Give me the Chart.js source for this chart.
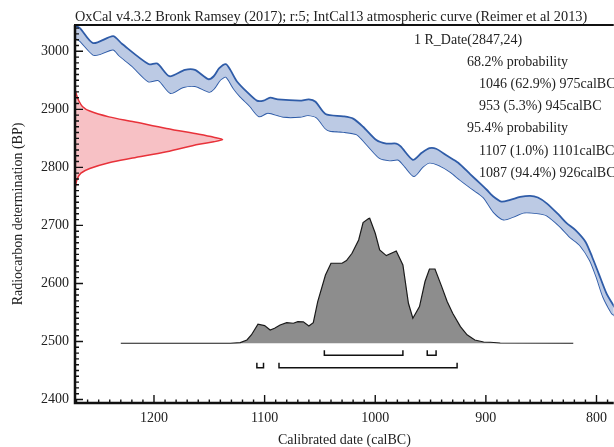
<!DOCTYPE html>
<html>
<head>
<meta charset="utf-8">
<script src="https://cdn.jsdelivr.net/npm/chart.js@4"></script>
<style>
  html, body { margin: 0; padding: 0; background: #fff; }
  canvas { display: block; }
</style>
</head>
<body>
<canvas id="grafico" width="614" height="447"></canvas>
<script>
// Curva IntCal13: limite superior (calBC, BP)
const curveUpperYears = [1275, 1271, 1267, 1255, 1237, 1229, 1205, 1197, 1186, 1172, 1163, 1151, 1146, 1141, 1135, 1131, 1125, 1116, 1107, 1101, 1095, 1088, 1068, 1060, 1054, 1045, 1029, 1020, 1011, 999, 990, 981, 977, 966, 958, 951, 945, 935, 925, 914, 905, 899, 894, 886, 878, 869, 860, 853, 845, 834, 827, 819, 810, 804, 798, 791, 784, 778];
const curveUpperBP = [3050, 3044, 3040, 3014, 3026, 3013, 2978, 2979, 2957, 2968, 2968, 2952, 2957, 2971, 2978, 2968, 2948, 2930, 2915, 2915, 2920, 2917, 2915, 2917, 2913, 2892, 2888, 2884, 2870, 2847, 2841, 2841, 2836, 2813, 2825, 2833, 2832, 2820, 2808, 2788, 2772, 2761, 2751, 2741, 2744, 2749, 2751, 2748, 2738, 2718, 2704, 2692, 2672, 2646, 2617, 2583, 2560, 2540];

// Curva IntCal13: limite inferior (calBC, BP)
const curveLowerYears = [1275, 1271, 1267, 1255, 1249, 1237, 1231, 1220, 1205, 1196, 1185, 1174, 1163, 1150, 1146, 1140, 1135, 1128, 1122, 1113, 1105, 1097, 1083, 1068, 1061, 1053, 1045, 1041, 1029, 1017, 1008, 996, 987, 979, 973, 965, 957, 951, 943, 932, 923, 911, 902, 893, 884, 875, 866, 854, 845, 833, 824, 815, 806, 800, 794, 786, 784, 778];
const curveLowerBP = [3030, 3023, 3018, 2994, 2995, 3003, 2992, 2975, 2948, 2950, 2928, 2938, 2940, 2930, 2935, 2951, 2956, 2936, 2922, 2905, 2888, 2894, 2887, 2887, 2890, 2886, 2867, 2863, 2861, 2857, 2840, 2816, 2812, 2813, 2801, 2785, 2801, 2808, 2804, 2792, 2778, 2761, 2748, 2723, 2710, 2715, 2722, 2721, 2717, 2698, 2680, 2666, 2640, 2611, 2577, 2548, 2545, 2530];

// R_Date(2847,24): densidade relativa por BP
const rdateBP = [2935, 2925, 2915, 2905, 2897, 2887, 2879, 2867, 2857, 2852, 2848, 2844, 2840, 2827, 2816, 2808, 2798, 2790, 2780, 2770, 2760];
const rdateDens = [0, 0.01, 0.025, 0.05, 0.1, 0.23, 0.39, 0.62, 0.84, 0.94, 1, 0.94, 0.84, 0.62, 0.39, 0.23, 0.1, 0.04, 0.015, 0.005, 0];

// Distribuição calibrada (probabilidade relativa)
const calYears = [1230, 1131, 1122, 1116, 1112, 1106, 1100, 1095, 1091, 1086, 1080, 1074, 1070, 1065, 1060, 1056, 1052, 1045, 1040, 1030, 1026, 1021, 1015, 1011, 1006, 1005, 1000, 996, 990, 981, 975, 970, 966, 960, 955, 951, 946, 940, 935, 930, 923, 917, 910, 902, 896, 887, 821];
const calProb = [0, 0, 0.005, 0.026, 0.066, 0.152, 0.141, 0.106, 0.12, 0.146, 0.165, 0.16, 0.173, 0.171, 0.138, 0.165, 0.333, 0.546, 0.64, 0.64, 0.661, 0.72, 0.826, 0.965, 0.997, 1, 0.88, 0.746, 0.701, 0.738, 0.626, 0.32, 0.2, 0.293, 0.494, 0.594, 0.594, 0.455, 0.334, 0.24, 0.133, 0.067, 0.026, 0.01, 0.008, 0.002, 0];

// Intervalos (calBC)
const range68 = [[1046, 975], [953, 945]];
const range95 = [[1107, 1101], [1087, 926]];

// Marcas dos eixos
const xTickValues = [1200, 1100, 1000, 900, 800];
const yTickValues = [2400, 2500, 2600, 2700, 2800, 2900, 3000];

const titulo = 'OxCal v4.3.2 Bronk Ramsey (2017); r:5; IntCal13 atmospheric curve (Reimer et al 2013)';
// [nível de recuo, texto]
const resumo = [
    [0, '1 R_Date(2847,24)'],
    [1, '68.2% probability'],
    [2, '1046 (62.9%) 975calBC'],
    [2, '953 (5.3%) 945calBC'],
    [1, '95.4% probability'],
    [2, '1107 (1.0%) 1101calBC'],
    [2, '1087 (94.4%) 926calBC']
];

const fonte = "'Liberation Serif', 'Times New Roman', serif";
const corTexto = '#222';

function pares(xs, ys) {
    return xs.map((x, i) => ({ x: x, y: ys[i] }));
}

// colchete sob a distribuição: sobe nas pontas
function colchete(range, topo, base) {
    return {
        data: [
            { x: range[0], y: topo }, { x: range[0], y: base },
            { x: range[1], y: base }, { x: range[1], y: topo }
        ],
        xAxisID: 'x', yAxisID: 'yp',
        borderColor: '#111', borderWidth: 1.5,
        pointRadius: 0, fill: false, tension: 0
    };
}

const colchetes = [];
range68.forEach(r => colchetes.push(colchete(r, -0.055, -0.095)));
range95.forEach(r => colchetes.push(colchete(r, -0.155, -0.195)));

// eixos com marcas para dentro, borda superior e textos
const eixosOxcal = {
    id: 'eixosOxcal',
    afterDatasetsDraw(chart) {
        const { ctx, chartArea: a, scales } = chart;
        const x = scales.x, y = scales.y;
        ctx.save();
        ctx.strokeStyle = '#111';
        ctx.lineWidth = 1.4;
        ctx.beginPath();
        for (let v = Math.ceil(y.min / 10) * 10; v <= y.max; v += 10) {
            const py = y.getPixelForValue(v);
            const len = v % 100 === 0 ? 8 : 4;
            ctx.moveTo(a.left, py);
            ctx.lineTo(a.left + len, py);
        }
        for (let v = Math.ceil(x.min / 10) * 10; v <= x.max; v += 10) {
            const px = x.getPixelForValue(v);
            const len = v % 100 === 0 ? 8 : 3.5;
            ctx.moveTo(px, a.bottom);
            ctx.lineTo(px, a.bottom - len);
        }
        ctx.stroke();

        ctx.lineWidth = 2.5;
        ctx.beginPath();
        ctx.moveTo(a.left, a.top);
        ctx.lineTo(a.left, a.bottom);
        ctx.lineTo(a.right, a.bottom);
        ctx.stroke();
        ctx.lineWidth = 2;
        ctx.beginPath();
        ctx.moveTo(a.left - 1, a.top);
        ctx.lineTo(a.right, a.top);
        ctx.stroke();

        ctx.fillStyle = corTexto;
        ctx.font = '14.3px ' + fonte;
        ctx.textAlign = 'left';
        ctx.textBaseline = 'alphabetic';
        ctx.fillText(titulo, a.left, a.top - 4);

        ctx.font = '14px ' + fonte;
        const recuo = [414, 467, 479];
        resumo.forEach((linha, i) => {
            ctx.textBaseline = 'middle';
            ctx.fillText(linha[1], recuo[linha[0]], 40 + i * 22.2);
        });
        ctx.restore();
    }
};

window.onload = function() {
    const ctx = document.getElementById('grafico').getContext('2d');
    new Chart(ctx, {
        type: 'line',
        data: {
            datasets: [
                {
                    data: pares(curveUpperYears, curveUpperBP),
                    xAxisID: 'x', yAxisID: 'y',
                    borderColor: '#2f5ca8', borderWidth: 1.8,
                    backgroundColor: '#bccae4',
                    fill: '+1', pointRadius: 0, tension: 0.25
                },
                {
                    data: pares(curveLowerYears, curveLowerBP),
                    xAxisID: 'x', yAxisID: 'y',
                    borderColor: '#2f5ca8', borderWidth: 1.8,
                    fill: false, pointRadius: 0, tension: 0.25
                },
                {
                    data: pares(rdateDens, rdateBP),
                    xAxisID: 'xr', yAxisID: 'y',
                    borderColor: '#e8323a', borderWidth: 1.5,
                    backgroundColor: '#f7c1c5',
                    fill: 'shape', pointRadius: 0, tension: 0.3
                },
                {
                    data: pares(calYears, calProb),
                    xAxisID: 'x', yAxisID: 'yp',
                    borderColor: '#1a1a1a', borderWidth: 1.2,
                    backgroundColor: '#8d8d8d',
                    fill: 'origin', pointRadius: 0, tension: 0
                },
                ...colchetes
            ]
        },
        options: {
            responsive: false,
            animation: false,
            events: [],
            layout: { padding: { top: 25, left: 0, right: 0, bottom: 0 } },
            plugins: {
                legend: { display: false },
                tooltip: { enabled: false }
            },
            scales: {
                x: {
                    type: 'linear',
                    position: 'bottom',
                    reverse: true,
                    min: 784.4,
                    max: 1271.4,
                    afterBuildTicks: s => { s.ticks = xTickValues.map(v => ({ value: v })); },
                    afterFit: s => { s.height = 44; },
                    grid: { display: false, drawTicks: false },
                    border: { display: false },
                    ticks: {
                        padding: 7,
                        color: corTexto,
                        font: { family: fonte, size: 14 },
                        callback: v => String(v)
                    },
                    title: {
                        display: true,
                        text: 'Calibrated date (calBC)',
                        color: corTexto,
                        font: { family: fonte, size: 14, lineHeight: 1 },
                        padding: 0
                    }
                },
                y: {
                    type: 'linear',
                    position: 'left',
                    min: 2394,
                    max: 3045.3,
                    afterBuildTicks: s => { s.ticks = yTickValues.map(v => ({ value: v })); },
                    afterFit: s => { s.width = 75; },
                    grid: { display: false, drawTicks: false },
                    border: { display: false },
                    ticks: {
                        padding: 6,
                        color: corTexto,
                        font: { family: fonte, size: 14 },
                        callback: v => String(v)
                    },
                    title: {
                        display: true,
                        text: 'Radiocarbon determination (BP)',
                        color: corTexto,
                        font: { family: fonte, size: 14, lineHeight: 1 },
                        padding: { top: 11, bottom: 0 }
                    }
                },
                xr: { type: 'linear', display: false, min: 0, max: 3.65 },
                yp: { type: 'linear', display: false, min: -0.478, max: 2.546 }
            }
        },
        plugins: [eixosOxcal]
    });
};
</script>
</body>
</html>
